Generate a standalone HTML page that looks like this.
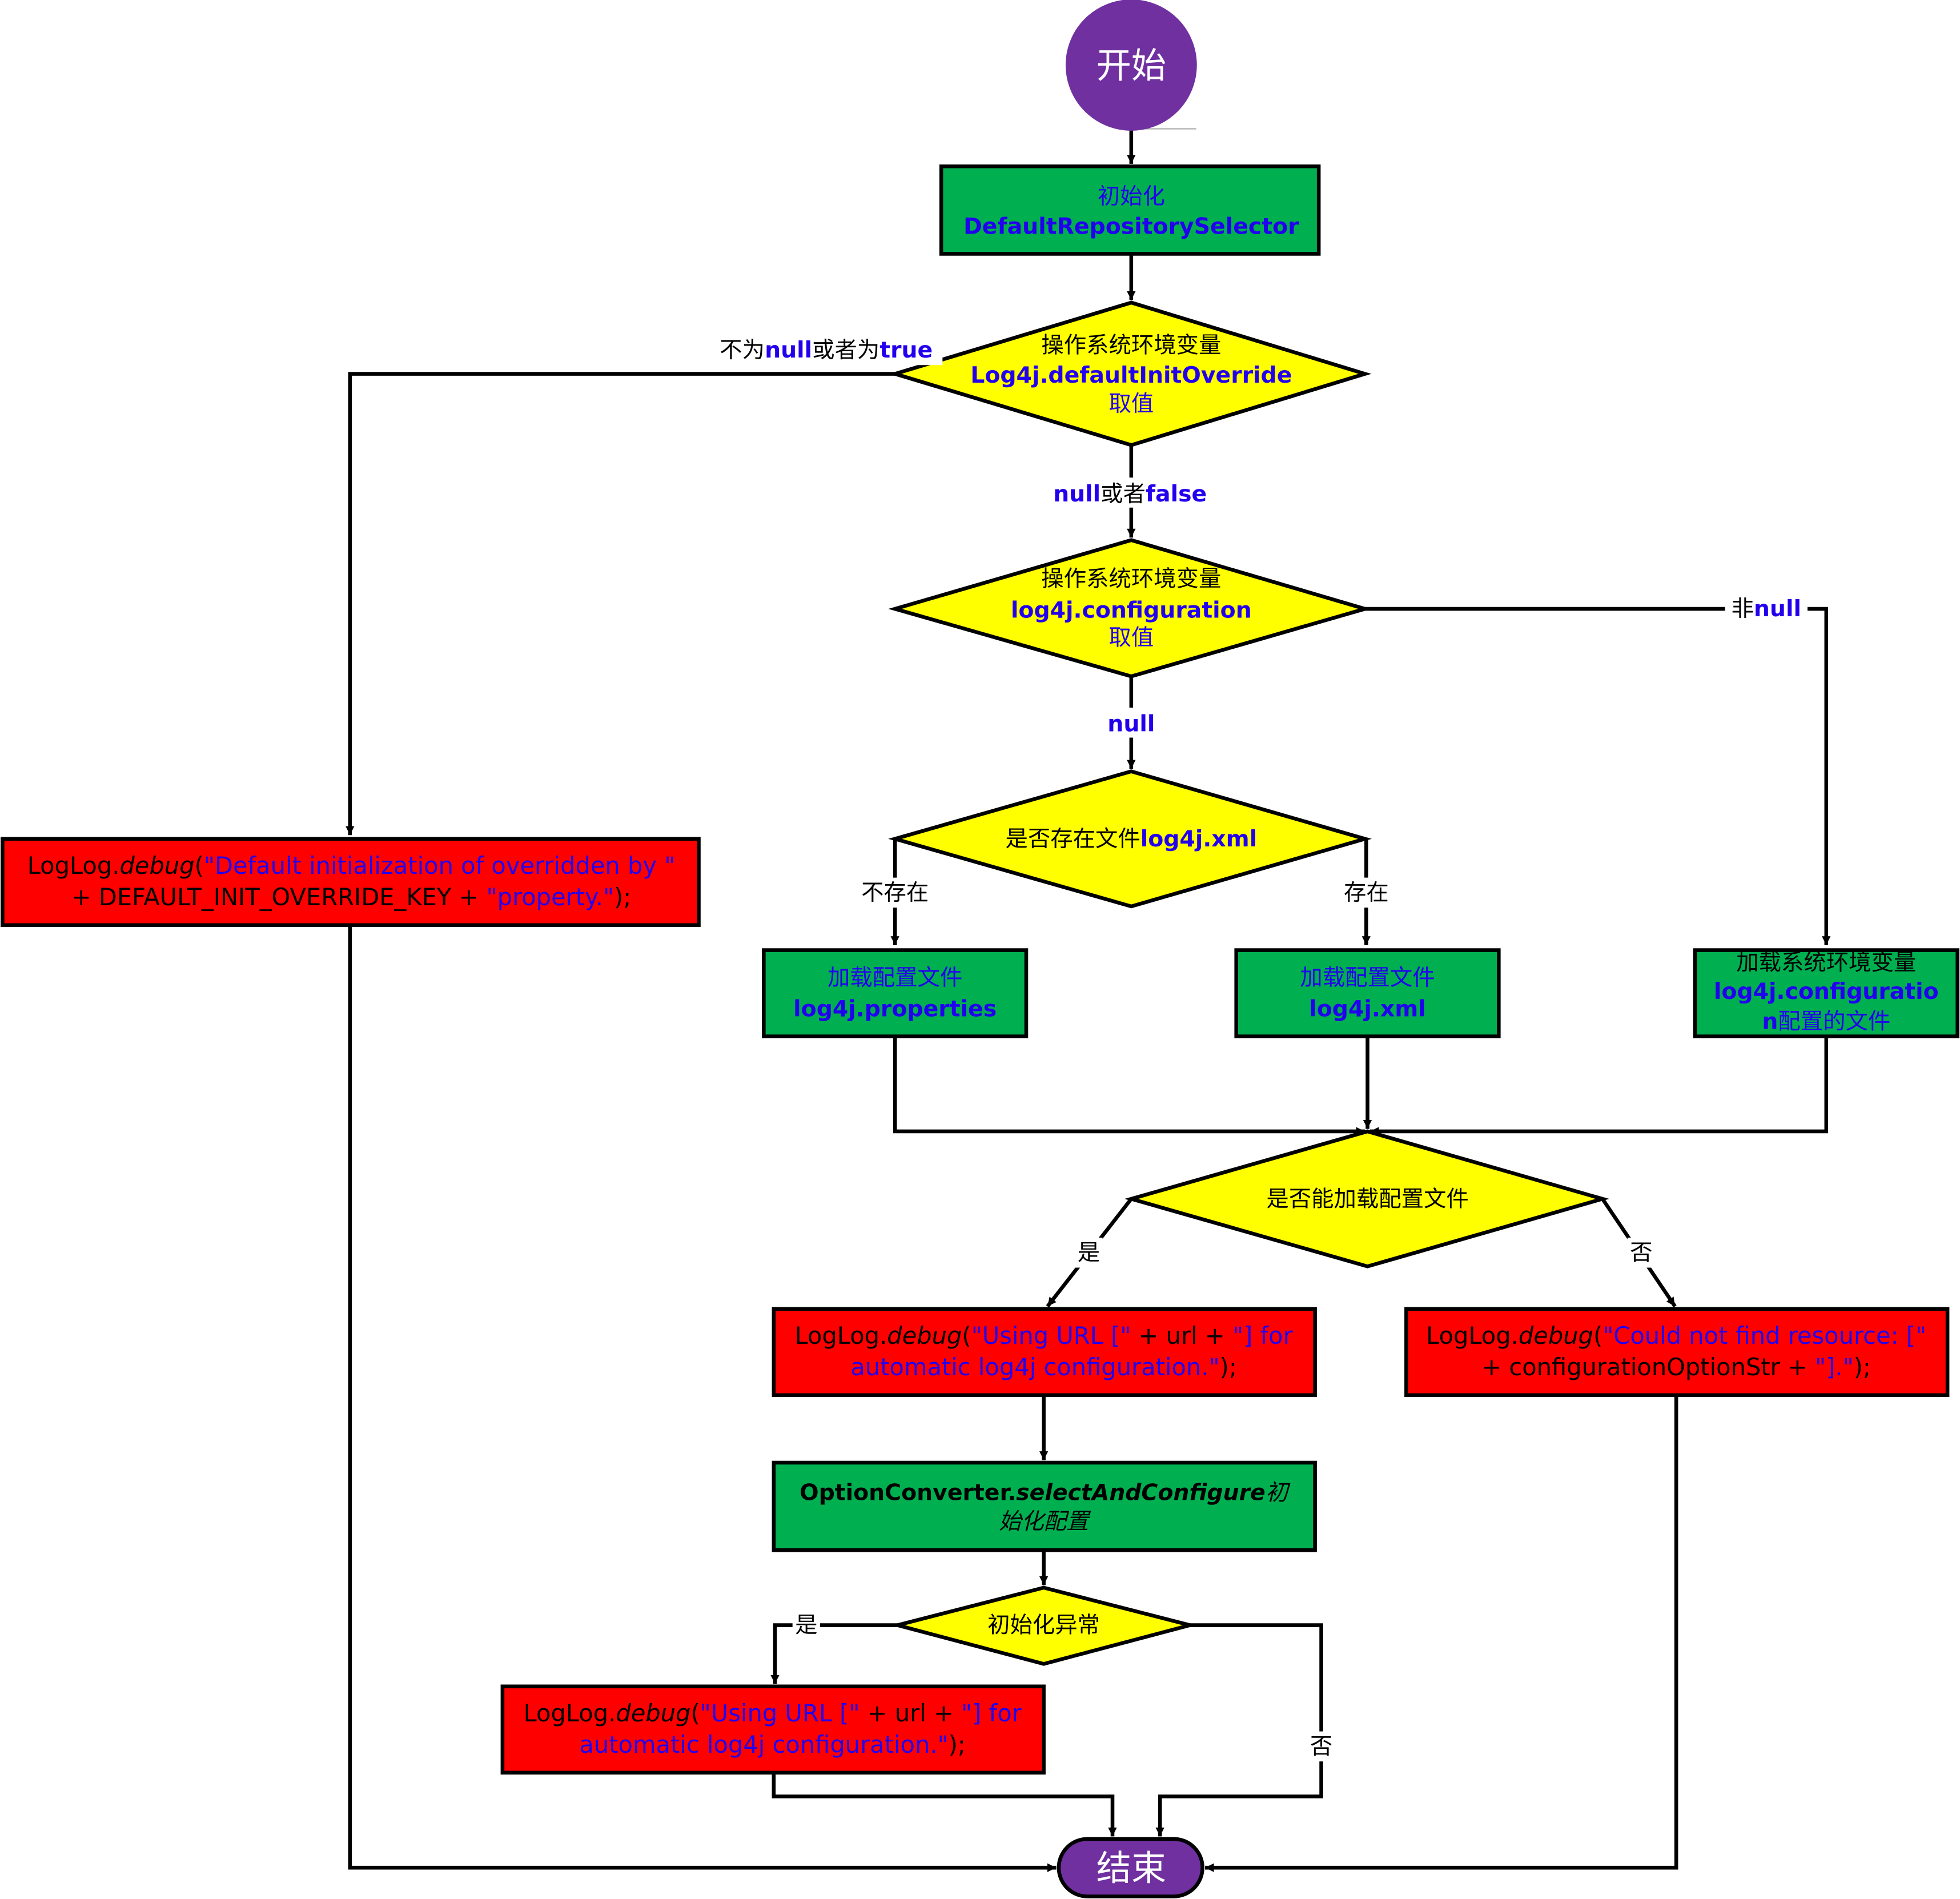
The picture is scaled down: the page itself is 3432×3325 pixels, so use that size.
<!DOCTYPE html>
<html><head><meta charset="utf-8"><style>html,body{margin:0;padding:0;background:#fff}svg{display:block}</style></head><body>
<svg xmlns="http://www.w3.org/2000/svg" width="3432" height="3325" viewBox="0 0 1568 1519" font-family="'DejaVu Sans','Noto Sans CJK SC',sans-serif" font-size="18">
<defs><marker id="a" viewBox="0 0 10 10" refX="10" refY="5" markerWidth="5" markerHeight="5" orient="auto" markerUnits="userSpaceOnUse" style="overflow:visible"><path d="M0,0L10,5L0,10z" fill="#000" transform="scale(1.4) translate(-3,-1.4)"/></marker></defs>
<style>.l{fill:none;stroke:#000;stroke-width:3}.b{fill:#2200ee}.k{fill:#000}.bd{font-weight:bold}.c{font-family:'Noto Sans CJK SC',sans-serif}</style>
<g class="l">
<path d="M905,103V131" marker-end="url(#a)"/>
<path d="M905,203V240" marker-end="url(#a)"/>
<path d="M716,299H280V668" marker-end="url(#a)"/>
<path d="M905,356V430" marker-end="url(#a)"/>
<path d="M1092,487H1461V756" marker-end="url(#a)"/>
<path d="M905,541V615" marker-end="url(#a)"/>
<path d="M716,671V756" marker-end="url(#a)"/>
<path d="M1093,671V756" marker-end="url(#a)"/>
<path d="M716,829V905H1092" marker-end="url(#a)"/>
<path d="M1094,829V903" marker-end="url(#a)"/>
<path d="M1461,829V905H1096" marker-end="url(#a)"/>
<path d="M905,959L838,1045" marker-end="url(#a)"/>
<path d="M1282,959L1340,1045" marker-end="url(#a)"/>
<path d="M835,1116V1168" marker-end="url(#a)"/>
<path d="M835,1240V1268" marker-end="url(#a)"/>
<path d="M718,1300H620V1347" marker-end="url(#a)"/>
<path d="M952,1300H1057V1437H928V1469" marker-end="url(#a)"/>
<path d="M619,1418V1437H890V1469" marker-end="url(#a)"/>
<path d="M280,740V1494H845" marker-end="url(#a)"/>
<path d="M1341,1116V1494H964" marker-end="url(#a)"/>
</g>
<line x1="905" y1="103" x2="957" y2="103" stroke="#aaa" stroke-width="1"/>
<!-- shapes -->
<g stroke="#000" stroke-width="3">
<circle cx="905" cy="52" r="51" fill="#7030a0" stroke="#7030a0"/>
<rect x="753" y="133" width="302" height="70" fill="#00b050"/>
<polygon points="905,242 1092,299 905,356 716,299" fill="#ffff00"/>
<polygon points="905,432 1092,487 905,541 716,487" fill="#ffff00"/>
<polygon points="905,617 1092,671 905,725 716,671" fill="#ffff00"/>
<rect x="2" y="671" width="557" height="69" fill="#ff0000"/>
<rect x="611" y="760" width="210" height="69" fill="#00b050"/>
<rect x="989" y="760" width="210" height="69" fill="#00b050"/>
<rect x="1356" y="760" width="210" height="69" fill="#00b050"/>
<polygon points="1094,905 1282,959 1094,1013 905,959" fill="#ffff00"/>
<rect x="619" y="1047" width="433" height="69" fill="#ff0000"/>
<rect x="1125" y="1047" width="433" height="69" fill="#ff0000"/>
<rect x="619" y="1170" width="433" height="70" fill="#00b050"/>
<polygon points="835,1270 952,1300 835,1331 718,1300" fill="#ffff00"/>
<rect x="402" y="1349" width="433" height="69" fill="#ff0000"/>
<rect x="847" y="1471" width="115" height="46" rx="23" fill="#7030a0"/>
</g>
<!-- label backgrounds -->
<g fill="#fff">
<rect x="568" y="266" width="186" height="26"/><rect x="836" y="382" width="136" height="24"/>
<rect x="1380" y="475" width="66" height="24"/><rect x="882" y="566" width="46" height="24"/>
<rect x="686" y="702" width="60" height="24"/><rect x="1073" y="702" width="40" height="24"/>
<rect x="860" y="990" width="22" height="24"/><rect x="1302" y="990" width="22" height="24"/>
<rect x="634" y="1289" width="22" height="24"/><rect x="1046" y="1385" width="22" height="24"/>
</g>
<g text-anchor="middle">
<text x="905" y="62" fill="#fff" font-size="28" class="c">开始</text>
<text x="905" y="163" class="b c">初始化</text>
<text x="905" y="187" class="b bd">DefaultRepositorySelector</text>
<text x="905" y="282" class="k c">操作系统环境变量</text>
<text x="905" y="306" class="b bd">Log4j.defaultInitOverride</text>
<text x="905" y="329" class="b c">取值</text>
<text x="661" y="286" class="k"><tspan class="c">不为</tspan><tspan class="b bd">null</tspan><tspan class="c">或者为</tspan><tspan class="b bd">true</tspan></text>
<text x="904" y="401" class="k"><tspan class="b bd">null</tspan><tspan class="c">或者</tspan><tspan class="b bd">false</tspan></text>
<text x="905" y="469" class="k c">操作系统环境变量</text>
<text x="905" y="494" class="b bd">log4j.configuration</text>
<text x="905" y="516" class="b c">取值</text>
<text x="1413" y="493" class="k"><tspan class="c">非</tspan><tspan class="b bd">null</tspan></text>
<text x="905" y="585" class="b bd">null</text>
<text x="905" y="677" class="k"><tspan class="c">是否存在文件</tspan><tspan class="b bd">log4j.xml</tspan></text>
<text x="716" y="720" class="k c">不存在</text>
<text x="1093" y="720" class="k c">存在</text>
<text x="281" y="699" font-size="19" class="k">LogLog.<tspan font-style="italic">debug</tspan>(<tspan class="b">"Default initialization of overridden by "</tspan></text>
<text x="281" y="724" font-size="19" class="k">+ DEFAULT_INIT_OVERRIDE_KEY + <tspan class="b">"property."</tspan>);</text>
<text x="716" y="788" class="b c">加载配置文件</text>
<text x="716" y="813" class="b bd">log4j.properties</text>
<text x="1094" y="788" class="b c">加载配置文件</text>
<text x="1094" y="813" class="b bd">log4j.xml</text>
<text x="1461" y="776" class="k c">加载系统环境变量</text>
<text x="1461" y="799" class="b bd">log4j.configuratio</text>
<text x="1461" y="823" class="b"><tspan class="bd">n</tspan><tspan class="c">配置的文件</tspan></text>
<text x="1094" y="965" class="k c">是否能加载配置文件</text>
<text x="871" y="1008" class="k c">是</text>
<text x="1313" y="1008" class="k c">否</text>
<text x="835" y="1075" font-size="19" class="k">LogLog.<tspan font-style="italic">debug</tspan>(<tspan class="b">"Using URL ["</tspan> + url + <tspan class="b">"] for</tspan></text>
<text x="835" y="1100" font-size="19" class="k"><tspan class="b">automatic log4j configuration."</tspan>);</text>
<text x="1341" y="1075" font-size="19" class="k">LogLog.<tspan font-style="italic">debug</tspan>(<tspan class="b">"Could not find resource: ["</tspan></text>
<text x="1341" y="1100" font-size="19" class="k">+ configurationOptionStr + <tspan class="b">"]."</tspan>);</text>
<text x="835" y="1200" class="k bd">OptionConverter.<tspan font-style="italic">selectAndConfigure</tspan><tspan class="c" font-weight="normal" font-style="italic">初</tspan></text>
<text x="835" y="1223" class="k c" font-style="italic">始化配置</text>
<text x="835" y="1306" class="k c">初始化异常</text>
<text x="645" y="1306" class="k c">是</text>
<text x="1057" y="1403" class="k c">否</text>
<text x="618" y="1377" font-size="19" class="k">LogLog.<tspan font-style="italic">debug</tspan>(<tspan class="b">"Using URL ["</tspan> + url + <tspan class="b">"] for</tspan></text>
<text x="618" y="1402" font-size="19" class="k"><tspan class="b">automatic log4j configuration."</tspan>);</text>
<text x="905" y="1504" fill="#fff" font-size="28" class="c">结束</text>
</g>
</svg>
</body></html>
